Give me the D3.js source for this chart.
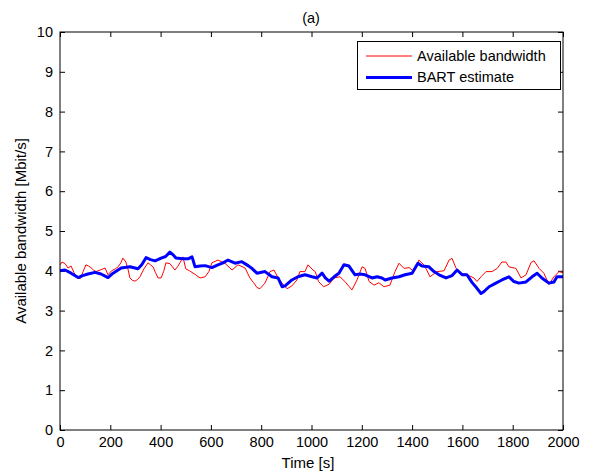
<!DOCTYPE html>
<html><head><meta charset="utf-8">
<script src="https://cdn.jsdelivr.net/npm/d3@7"></script>
<style>body{margin:0;background:#fff}svg{display:block}text{font-family:"Liberation Sans",Arial,sans-serif}</style>
</head><body><svg id="c" width="590" height="476"></svg>
<script>
const xTicks = [0,200,400,600,800,1000,1200,1400,1600,1800,2000];
const yTicks = [0,1,2,3,4,5,6,7,8,9,10];
const seriesNames = ["Available bandwidth","BART estimate"];
const availT = [0,8,20,32,44,56,64,80,92,103,113,123,133,143,160,179,191,205,220,231,242,250,262,270,278,288,298,308,318,334,350,360,370,380,390,402,412,421,437,447,457,467,477,489,500,515,537,557,577,592,604,628,656,684,708,736,755,770,783,795,815,835,851,867,883,903,922,942,954,974,986,1006,1015,1028,1048,1070,1090,1113,1133,1150,1161,1181,1201,1213,1229,1249,1268,1288,1312,1332,1348,1368,1388,1408,1427,1447,1460,1471,1499,1527,1547,1559,1575,1595,1618,1646,1658,1674,1694,1718,1738,1757,1773,1785,1813,1833,1853,1873,1885,1905,1924,1944,1964,1984,2000];
const availV = [4.15,4.22,4.18,4.07,4.12,3.95,3.85,3.8,3.98,4.15,4.12,4.08,4.02,3.98,4.02,4.07,3.9,4.0,4.05,4.1,4.2,4.32,4.22,4.05,3.82,3.76,3.74,3.78,3.85,4.05,4.2,4.15,4.1,3.95,3.82,3.82,3.98,4.2,4.18,4.1,4.02,4.1,4.2,4.35,4.05,4.0,3.91,3.82,3.85,3.98,4.2,4.27,4.19,4.02,4.15,4.07,3.82,3.7,3.58,3.55,3.69,3.98,4.02,3.82,3.69,3.55,3.62,3.77,3.98,3.98,4.15,4.02,3.98,3.73,3.6,3.66,3.82,3.85,3.73,3.6,3.52,3.77,4.1,4.06,3.73,3.64,3.7,3.6,3.64,3.98,4.19,4.06,4.08,3.98,4.27,4.15,4.0,3.85,3.98,4.0,4.27,4.31,4.06,3.94,3.9,3.82,3.73,3.85,3.98,3.98,4.06,4.22,4.22,4.1,4.06,3.82,3.9,4.21,4.25,4.06,3.94,3.66,3.85,3.98,3.95];
const bartT = [0,20,44,72,90,111,139,163,191,211,243,278,310,325,342,360,378,402,420,437,450,461,489,509,525,537,557,577,604,628,648,668,696,723,748,765,783,815,843,867,883,895,922,946,974,1002,1022,1042,1055,1070,1090,1109,1129,1149,1173,1193,1213,1241,1261,1280,1293,1320,1348,1372,1400,1423,1439,1467,1487,1507,1535,1559,1579,1599,1618,1638,1658,1674,1686,1706,1733,1757,1785,1805,1825,1853,1877,1897,1916,1944,1964,1976,2000];
const bartV = [4.0,4.02,3.94,3.83,3.88,3.92,3.96,3.92,3.83,3.94,4.07,4.1,4.05,4.15,4.33,4.28,4.25,4.32,4.36,4.47,4.4,4.32,4.3,4.3,4.35,4.1,4.12,4.13,4.08,4.15,4.2,4.27,4.19,4.23,4.13,4.05,3.94,3.98,3.85,3.82,3.6,3.62,3.77,3.85,3.9,3.85,3.82,3.94,3.82,3.74,3.85,3.94,4.15,4.12,3.9,3.92,3.9,3.82,3.85,3.82,3.77,3.82,3.85,3.9,3.94,4.19,4.12,4.1,3.98,3.9,3.82,3.88,4.02,3.9,3.9,3.71,3.56,3.43,3.48,3.6,3.69,3.77,3.85,3.73,3.69,3.72,3.85,3.94,3.82,3.69,3.72,3.85,3.85];

const svg = d3.select("#c");
const L=60,R=563,T=32,B=430;
const FF = "'Liberation Sans',Arial,sans-serif";
const x = d3.scaleLinear().domain([0,2000]).range([L,R]);
const y = d3.scaleLinear().domain([0,10]).range([B,T]);

const g = svg.append("g");
g.append("g").attr("transform",`translate(0,${B})`)
 .call(d3.axisBottom(x).tickValues(xTicks).tickSizeInner(-5).tickSizeOuter(0).tickPadding(7).tickFormat(d3.format("d")));
g.append("g").attr("transform",`translate(0,${T})`)
 .call(d3.axisTop(x).tickValues(xTicks).tickSizeInner(-5).tickSizeOuter(0).tickFormat(""));
g.append("g").attr("transform",`translate(${L},0)`)
 .call(d3.axisLeft(y).tickValues(yTicks).tickSizeInner(-5).tickSizeOuter(0).tickPadding(7).tickFormat(d3.format("d")));
g.append("g").attr("transform",`translate(${R},0)`)
 .call(d3.axisRight(y).tickValues(yTicks).tickSizeInner(-5).tickSizeOuter(0).tickFormat(""));
g.selectAll(".domain").remove();
g.selectAll(".tick line").attr("stroke","#000");
g.selectAll(".tick text").attr("font-size",14.5).attr("fill","#000").style("font-family",FF);

const line = d3.line().x(d=>x(d[0])).y(d=>y(d[1]));
svg.append("path").datum(availT.map((t,i)=>[t,availV[i]])).attr("d",line)
 .attr("fill","none").attr("stroke","#ff0000").attr("stroke-width",1);
svg.append("path").datum(bartT.map((t,i)=>[t,bartV[i]])).attr("d",line)
 .attr("fill","none").attr("stroke","#0000ff").attr("stroke-width",3).attr("stroke-linejoin","round");

svg.append("rect").attr("x",L).attr("y",T).attr("width",R-L).attr("height",B-T)
 .attr("fill","none").attr("stroke","#000").attr("stroke-width",1);

const lg = svg.append("g");
lg.append("rect").attr("x",357.5).attr("y",41.5).attr("width",203).attr("height",48)
 .attr("fill","#fff").attr("stroke","#000");
const cols=["#ff0000","#0000ff"], widths=[1,3];
seriesNames.forEach((n,i)=>{
  const yy = 56 + i*21.5;
  lg.append("line").attr("x1",366).attr("x2",412).attr("y1",yy).attr("y2",yy)
    .attr("stroke",cols[i]).attr("stroke-width",widths[i]);
  lg.append("text").attr("x",417).attr("y",yy+4.5).attr("font-size",14.5).text(n);
});

svg.append("text").attr("x",311).attr("y",23).attr("text-anchor","middle").attr("font-size",14.5).text("(a)");
svg.append("text").attr("x",308).attr("y",468).attr("text-anchor","middle").attr("font-size",15).text("Time [s]");
svg.append("text").attr("transform","translate(26,231) rotate(-90)").attr("text-anchor","middle").attr("font-size",15).text("Available bandwidth [Mbit/s]");
</script></body></html>
